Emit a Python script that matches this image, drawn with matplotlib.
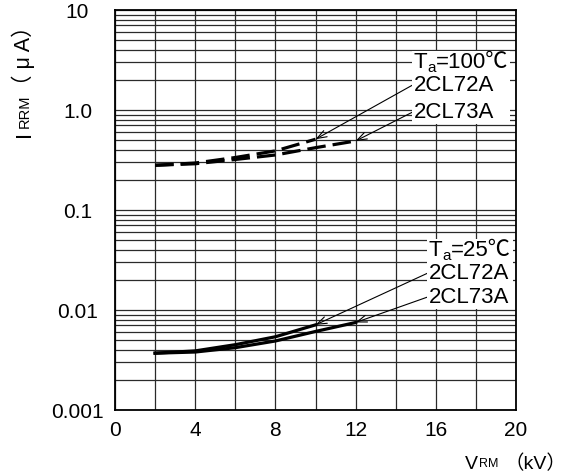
import matplotlib
matplotlib.use("Agg")
import matplotlib.pyplot as plt
import matplotlib.patches as mpatches
from matplotlib.transforms import Bbox
from matplotlib.ticker import MultipleLocator, FixedLocator, LogLocator, NullFormatter

# ── Data ──────────────────────────────────────────────────────────────────────
V_72A = [2, 4, 6, 8, 10]
V_73A = [2, 4, 6, 8, 10, 12]

I_72A_100C = [0.28, 0.295, 0.335, 0.39, 0.51]
I_73A_100C = [0.28, 0.29, 0.32, 0.355, 0.42, 0.49]

I_72A_25C = [0.0037, 0.0039, 0.0045, 0.0054, 0.0071]
I_73A_25C = [0.0037, 0.0038, 0.0042, 0.0049, 0.0061, 0.0075]

YTICKS = [0.001, 0.01, 0.1, 1.0, 10]
YTICK_LABELS = ["0.001", "0.01", "0.1", "1.0", "10"]
XTICKS = [0, 4, 8, 12, 16, 20]

# label anchors (data coords): temperature line, 2CL72A, 2CL73A
LBL_X_100 = 14.9
LBL_Y_100 = [3.0, 1.78, 0.955]
LBL_X_25 = 15.65
LBL_Y_25 = [0.040, 0.0234, 0.0135]

W, H = 567, 475
plt.rcParams["font.family"] = ["Liberation Sans", "Noto Sans CJK SC", "DejaVu Sans"]

fig = plt.figure(figsize=(W / 100, H / 100), dpi=100, facecolor="white")
ax = fig.add_axes([115 / W, 65 / H, 401 / W, 400 / H])

ax.set_yscale("log")
ax.set_xlim(0, 20)
ax.set_ylim(0.001, 10)

ax.xaxis.set_major_locator(FixedLocator(XTICKS))
ax.xaxis.set_minor_locator(MultipleLocator(2))
ax.yaxis.set_major_locator(FixedLocator(YTICKS))
ax.set_yticklabels(YTICK_LABELS, ha="center")
ax.yaxis.set_minor_locator(LogLocator(base=10, subs=range(2, 10)))
ax.yaxis.set_minor_formatter(NullFormatter())
ax.tick_params(which="both", length=0, labelsize=15, colors="black")
ax.tick_params(axis="y", pad=27)
ax.tick_params(axis="x", pad=8)

ax.grid(True, which="both", color="#2a2a2a", linewidth=0.9)
ax.set_axisbelow(True)
for sp in ax.spines.values():
    sp.set_color("black")
    sp.set_linewidth(1.3)

# ── Curves ────────────────────────────────────────────────────────────────────
dash = (0, (5.8, 2.2))
ax.plot(V_72A, I_72A_100C, color="black", lw=2.3, ls=dash, zorder=3)
ax.plot(V_73A, I_73A_100C, color="black", lw=2.3, ls=dash, zorder=3)
ax.plot(V_72A, I_72A_25C, color="black", lw=2.3, zorder=3)
ax.plot(V_73A, I_73A_25C, color="black", lw=2.3, zorder=3)

fig.canvas.draw()
rend = fig.canvas.get_renderer()


def chain(x0, y0, pieces):
    """Lay text pieces end to end, starting at figure pixel (x0, y0)."""
    pos = 0
    arts = []
    for s, size, shift in pieces:
        t = fig.text((x0 + pos) / W, (y0 - shift) / H, s, fontsize=size,
                     ha="left", va="baseline", zorder=4)
        pos += t.get_window_extent(rend).width
        arts.append(t)
    return arts


def labels(lx, ly, temp, tips):
    xs, ys = ax.transData.transform([(lx, y) for y in ly]).T
    arts = chain(xs[0], ys[0] - 6,
                 [("T", 16, 0), ("a", 11, 4), ("=" + temp + "℃", 16, 0)])
    for name, x, y, yv, tip in zip(["2CL72A", "2CL73A"], xs[1:], ys[1:], ly[1:], tips):
        arts += chain(x, y - 6, [(name, 16, 0)])
        ax.annotate("", xy=tip, xytext=(lx - 0.05, yv),
                    arrowprops=dict(arrowstyle="->,head_length=0.7,head_width=0.25",
                                    color="black", lw=0.8, shrinkA=0, shrinkB=0),
                    zorder=5)
    bb = Bbox.union([a.get_window_extent(rend) for a in arts])
    fig.add_artist(mpatches.Rectangle(
        ((bb.x0 - 2) / W, (bb.y0 - 1) / H), (bb.width + 4) / W, (bb.height + 2) / H,
        transform=fig.transFigure, facecolor="white", edgecolor="none", zorder=3.5))


labels(LBL_X_100, LBL_Y_100, "100",
       [(V_72A[-1], I_72A_100C[-1]), (V_73A[-1], I_73A_100C[-1])])
labels(LBL_X_25, LBL_Y_25, "25",
       [(V_72A[-1], I_72A_25C[-1]), (V_73A[-1], I_73A_25C[-1])])

# ── Axis titles ───────────────────────────────────────────────────────────────
yl = dict(rotation=90, rotation_mode="anchor", ha="left", va="baseline")
fig.text(30 / W, (H - 137) / H, "I", fontsize=16, **yl)
fig.text(29 / W, (H - 128) / H, "RRM", fontsize=10.5, **yl)
fig.text(30 / W, (H - 96) / H, "（ μ A）", fontsize=15.5, **yl)

fig.text(465 / W, (H - 469) / H, "V", fontsize=14, ha="left", va="baseline")
fig.text(479 / W, (H - 467) / H, "RM", fontsize=9, ha="left", va="baseline")
fig.text(566 / W, (H - 469) / H, "（kV）", fontsize=14, ha="right", va="baseline")

fig.savefig("out.png", dpi=100, facecolor="white")
